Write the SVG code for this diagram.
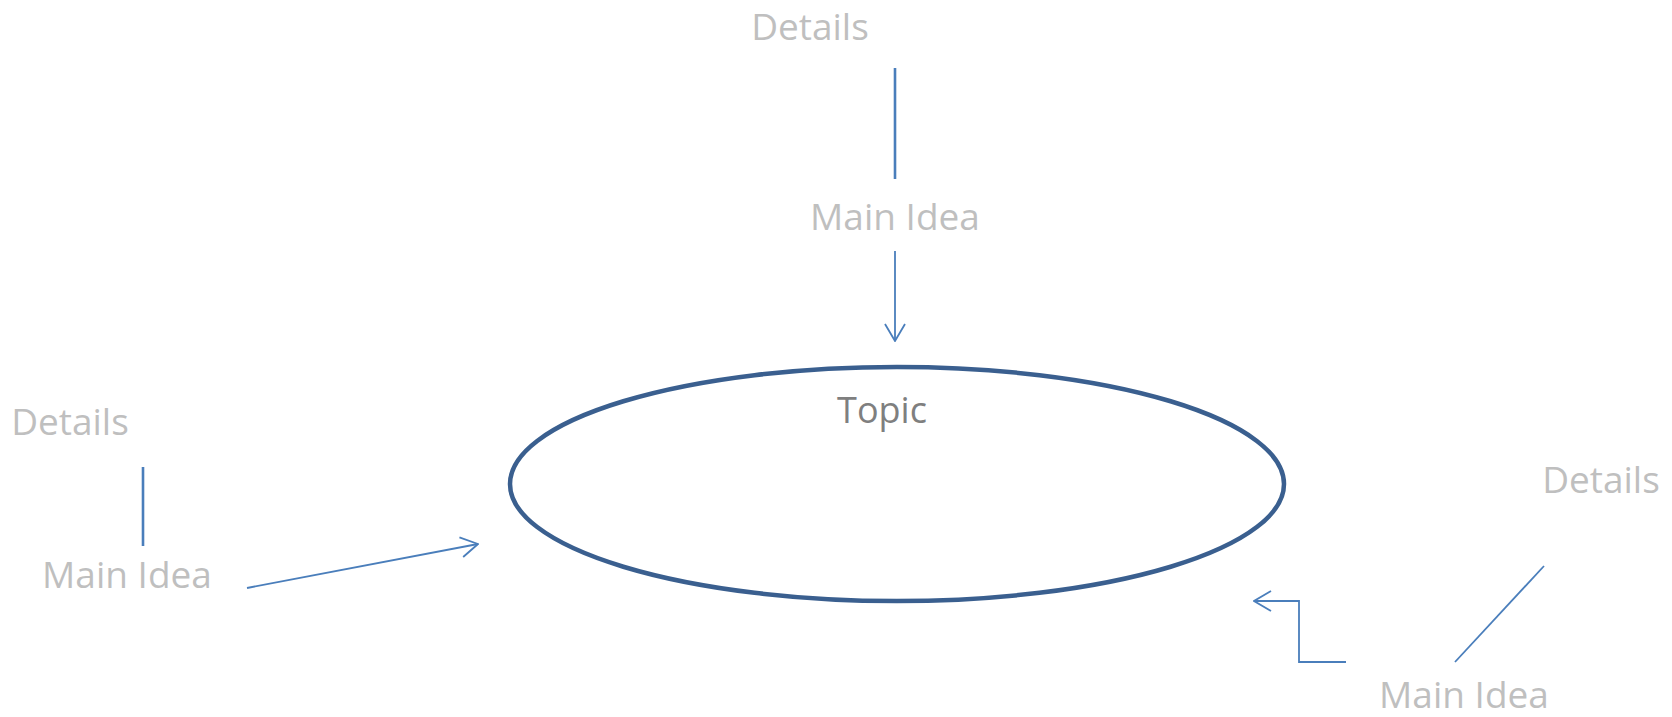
<svg xmlns="http://www.w3.org/2000/svg" width="1672" height="717" viewBox="0 0 1672 717">
<style>
.lbl{font-family:"Open Sans","Liberation Sans",sans-serif;font-size:37px;fill:#BFBFBF;text-anchor:middle}
.topic{font-family:"Open Sans","Liberation Sans",sans-serif;font-size:36px;fill:#7F7F7F;text-anchor:middle}
.ln{stroke:#4A7EBB;stroke-width:2.6;fill:none}
.ar{stroke:#4A7EBB;stroke-width:1.8;fill:none}
</style>
<defs>
<marker id="oa" viewBox="0 0 19 22" refX="18" refY="11" markerWidth="19" markerHeight="22" markerUnits="userSpaceOnUse" orient="auto">
<path d="M1,1 L18,11 L1,21" fill="none" stroke="#4A7EBB" stroke-width="1.8"/>
</marker>
</defs>
<g id="topic">
<ellipse cx="897" cy="484" rx="387" ry="117" fill="none" stroke="#3A5F8F" stroke-width="4.5"/>
<text class="topic" x="882" y="423">Topic</text>
</g>
<g id="details-top"><text class="lbl" x="810" y="40">Details</text></g>
<g id="main-top"><text class="lbl" x="895" y="230">Main Idea</text></g>
<g id="details-left"><text class="lbl" x="70" y="435">Details</text></g>
<g id="main-left"><text class="lbl" x="127" y="588">Main Idea</text></g>
<g id="details-right"><text class="lbl" x="1601" y="493">Details</text></g>
<g id="main-right"><text class="lbl" x="1464" y="708">Main Idea</text></g>
<g id="connectors">
<line class="ln" x1="895" y1="68" x2="895" y2="179"/>
<line class="ar" x1="895" y1="251" x2="895" y2="341" marker-end="url(#oa)"/>
<line class="ln" x1="143" y1="467" x2="143" y2="546"/>
<line class="ar" x1="247" y1="588" x2="478" y2="544" marker-end="url(#oa)"/>
<line class="ar" x1="1544" y1="566" x2="1455" y2="662"/>
<polyline class="ar" points="1346,662 1299,662 1299,601 1254,601" marker-end="url(#oa)"/>
</g>
</svg>
